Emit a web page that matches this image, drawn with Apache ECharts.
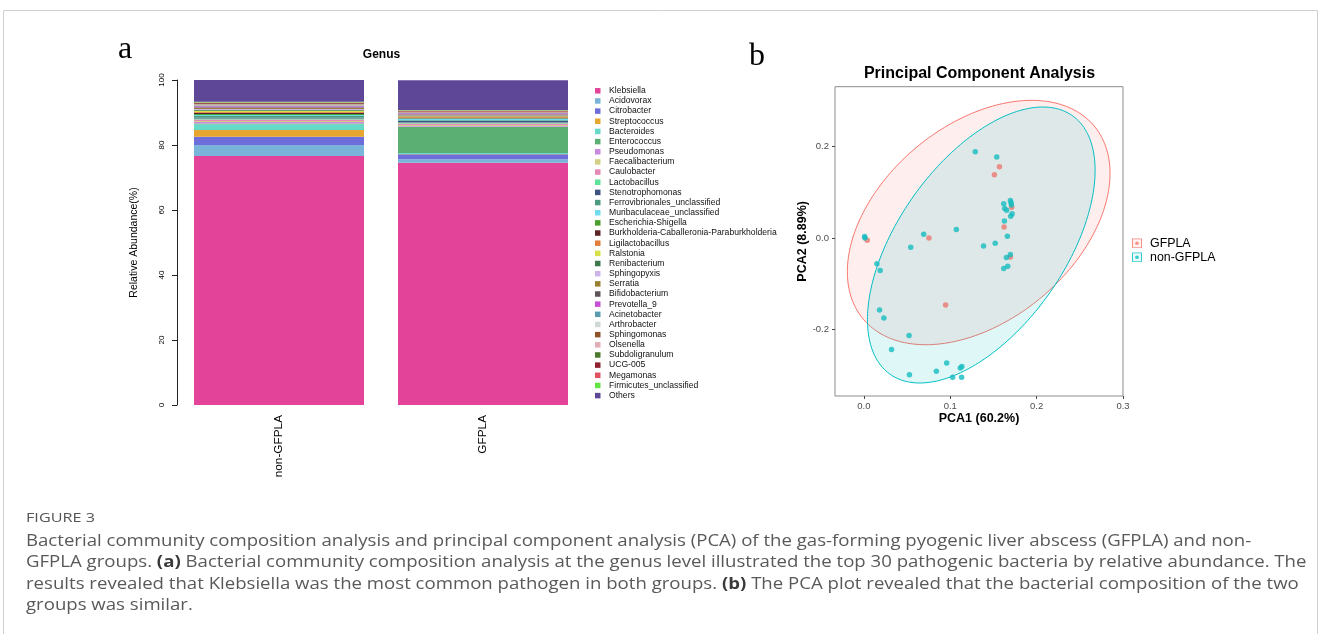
<!DOCTYPE html>
<html><head><meta charset="utf-8">
<script src="https://cdn.jsdelivr.net/npm/echarts@6/dist/echarts.min.js"></script>
<style>html,body{margin:0;padding:0;background:#fff}#c{width:1328px;height:634px}</style>
</head><body><div id="c"></div>
<script>
// ---------- panel a data ----------
const groups = ['non-GFPLA', 'GFPLA'];
const genera = ['Klebsiella','Acidovorax','Citrobacter','Streptococcus','Bacteroides','Enterococcus','Pseudomonas','Faecalibacterium','Caulobacter','Lactobacillus','Stenotrophomonas','Ferrovibrionales_unclassified','Muribaculaceae_unclassified','Escherichia-Shigella','Burkholderia-Caballeronia-Paraburkholderia','Ligilactobacillus','Ralstonia','Renibacterium','Sphingopyxis','Serratia','Bifidobacterium','Prevotella_9','Acinetobacter','Arthrobacter','Sphingomonas','Olsenella','Subdoligranulum','UCG-005','Megamonas','Firmicutes_unclassified','Others'];
const genusColors = ['#E3449A','#7AB4DA','#6E6EDB','#E7A630','#66D9C8','#5BAF73','#C98BDE','#D4CF85','#E589B5','#5FE29A','#3E5382','#4E9A80','#6FDCF0','#4AA02C','#5C2324','#E27F3B','#D8E04A','#3E7A4E','#CDB4E8','#9A8131','#5E5358','#C84FD9','#5A9BB0','#CFDAD4','#8F5128','#E0AEB6','#4B7A2D','#8E2230','#E05262','#62E442','#5E4796'];
const nonGFPLA = [76.6,3.4,2.55,2.05,1.75,0.3,0.4,0.3,0.5,0.3,0.2,0.6,0.3,0.3,0.4,0.2,0.4,0.2,0.3,0.4,0.2,0.3,0.15,0.15,0.15,0.15,0.15,0.2,0.2,0.2,6.7];
const GFPLA = [74.55,1.1,1.5,0.1,0.3,8.1,0.2,0.3,0.5,0.3,0.4,0.3,0.4,0.2,0.1,0.4,0.1,0.2,0.1,0.2,0.1,0.3,0.1,0.1,0.1,0.1,0.1,0.1,0.3,0.1,9.2];
const abundanceTicks = [0, 20, 40, 60, 80, 100];

// ---------- panel b data ----------
const gfplaPoints = [[0.1569,0.1559],[0.1511,0.1388],[0.0038,-0.0050],[0.0753,0.0000],[0.1711,0.0672],[0.1623,0.0241],[0.1696,-0.0416],[0.0946,-0.1467]];
const nonGfplaPoints = [[0.1289,0.1892],[0.1538,0.1774],[0.0008,0.0031],[0.0012,0.0000],[0.0692,0.0081],[0.1070,0.0184],[0.0542,-0.0204],[0.1385,-0.0175],[0.1520,-0.0116],[0.1661,0.0037],[0.1627,0.0372],[0.1619,0.0753],[0.1630,0.0644],[0.1653,0.0607],[0.1696,0.0819],[0.1704,0.0775],[0.1708,0.0723],[0.1716,0.0534],[0.1700,0.0475],[0.1696,-0.0363],[0.1650,-0.0429],[0.1665,-0.0620],[0.1619,-0.0670],[0.0150,-0.0561],[0.0188,-0.0714],[0.0181,-0.1577],[0.0231,-0.1752],[0.0523,-0.2137],[0.0320,-0.2444],[0.0527,-0.2992],[0.0839,-0.2919],[0.0958,-0.2737],[0.1027,-0.3050],[0.1116,-0.2847],[0.1134,-0.2816],[0.1131,-0.3050]];
// ellipse: [centre PC1, centre PC2, half-width, half-height, cos(phase)]
const gfplaEllipse = [0.1329, 0.0339, 0.1521, 0.2676, 0.4026];
const nonGfplaEllipse = [0.1359, -0.0153, 0.1318, 0.3022, 0.541];
const pc1Ticks = [0, 0.1, 0.2, 0.3];
const pc2Ticks = [-0.2, 0, 0.2];

const SANS = 'Liberation Sans, Arial, sans-serif';
const RED = '#F8766D', TEAL = '#00BFC4';

function ellipseRenderer(fill, stroke) {
  return function (params, api) {
    const cx = api.value(0), cy = api.value(1), w = api.value(2), h = api.value(3);
    const phi = Math.acos(api.value(4));
    const pts = [];
    for (let i = 0; i <= 240; i++) {
      const t = i / 240 * 2 * Math.PI;
      pts.push(api.coord([cx + w * Math.cos(t), cy + h * Math.cos(t - phi)]));
    }
    return { type: 'polygon', shape: { points: pts }, style: { fill: fill, stroke: stroke, lineWidth: 1 } };
  };
}
function keyIcon(col, fill) {
  const svg = '<svg xmlns="http://www.w3.org/2000/svg" width="20" height="20"><rect x="1" y="1" width="18" height="18" fill="' + fill + '" stroke="' + col + '" stroke-width="2"/><circle cx="10" cy="10" r="3.6" fill="' + col + '"/></svg>';
  return 'image://data:image/svg+xml;charset=utf-8,' + encodeURIComponent(svg);
}

const barSeries = genera.map((g, i) => ({
  name: g, type: 'bar', stack: 'genus', xAxisIndex: 0, yAxisIndex: 0, barWidth: 170,
  data: [nonGFPLA[i], GFPLA[i]], itemStyle: { color: genusColors[i] }, emphasis: { disabled: true }
}));

const capFont = 'Open Sans, sans-serif';
const capRich = { b: { fontFamily: capFont, fontSize: 15.5, fontWeight: 'bold', fill: '#3a3a3a' } };
function capLine(txt, y) {
  return { type: 'text', x: 26, y: y, scaleX: 1.2, style: { text: txt, rich: capRich, fontFamily: capFont, fontSize: 15.5, fill: '#595959', align: 'left', verticalAlign: 'middle', textAlign: 'left', textVerticalAlign: 'middle' } };
}

const chart = echarts.init(document.getElementById('c'), null, { renderer: 'canvas' });
chart.setOption({
  animation: false,
  backgroundColor: '#fff',
  textStyle: { fontFamily: SANS },
  grid: [
    { left: 177, top: 80, width: 408, height: 325 },
    { left: 835, top: 86.7, width: 288, height: 309.3, show: true, borderColor: '#8c8c8c', borderWidth: 1, backgroundColor: '#fff' }
  ],
  xAxis: [
    { type: 'category', gridIndex: 0, data: groups, axisLine: { show: false }, axisTick: { show: false },
      axisLabel: { rotate: 90, fontSize: 11.8, color: '#000', margin: 10, fontFamily: SANS } },
    { type: 'value', gridIndex: 1, min: -0.0335, max: 0.3, splitLine: { show: false }, axisLine: { show: false, onZero: false },
      axisTick: { show: true, length: 3, inside: false, customValues: pc1Ticks, lineStyle: { color: '#444' } },
      axisLabel: { customValues: pc1Ticks, formatter: v => v.toFixed(1), fontSize: 9.5, color: '#4d4d4d', margin: 5, fontFamily: SANS },
      name: 'PCA1 (60.2%)', nameLocation: 'middle', nameGap: 14,
      nameTextStyle: { fontSize: 12.5, fontWeight: 'bold', color: '#000', fontFamily: SANS } }
  ],
  yAxis: [
    { type: 'value', gridIndex: 0, min: 0, max: 100, interval: 20, splitLine: { show: false },
      axisLine: { show: true, onZero: false, lineStyle: { color: '#222' } },
      axisTick: { show: true, length: 5, inside: false, lineStyle: { color: '#222' } },
      axisLabel: { rotate: 90, fontSize: 8, color: '#000', margin: 11, fontFamily: SANS, customValues: abundanceTicks },
      name: 'Relative Abundance(%)', nameLocation: 'middle', nameGap: 37,
      nameTextStyle: { fontSize: 10.5, color: '#000', fontFamily: SANS } },
    { type: 'value', gridIndex: 1, min: -0.346, max: 0.3314, splitLine: { show: false }, axisLine: { show: false, onZero: false },
      axisTick: { show: true, length: 3, inside: false, customValues: pc2Ticks, lineStyle: { color: '#444' } },
      axisLabel: { customValues: pc2Ticks, formatter: v => v.toFixed(1), fontSize: 9.5, color: '#4d4d4d', margin: 6, fontFamily: SANS },
      name: 'PCA2 (8.89%)', nameLocation: 'middle', nameGap: 25,
      nameTextStyle: { fontSize: 12.5, fontWeight: 'bold', color: '#000', fontFamily: SANS } }
  ],
  legend: [
    { data: genera, orient: 'vertical', left: 595, top: 85.8, padding: 0, itemGap: 0.16, itemWidth: 5.5, itemHeight: 5.5,
      icon: 'rect', selectedMode: false,
      textStyle: { fontSize: 8.6, lineHeight: 10, color: '#111', fontFamily: SANS, padding: [0, 0, 0, 3.5] } },
    { data: [{ name: 'GFPLA', icon: keyIcon(RED, 'rgba(248,118,109,0.12)') }, { name: 'non-GFPLA', icon: keyIcon(TEAL, 'rgba(0,191,196,0.12)') }],
      orient: 'vertical', left: 1132, top: 237.3, padding: 0, itemGap: 2, itemWidth: 10, itemHeight: 10, selectedMode: false,
      textStyle: { fontSize: 12.4, lineHeight: 12, color: '#000', fontFamily: SANS, padding: [0, 0, 0, 3] } }
  ],
  series: barSeries.concat([
    { name: 'GFPLA ellipse', type: 'custom', xAxisIndex: 1, yAxisIndex: 1, data: [gfplaEllipse],
      encode: { x: 0, y: 1 }, renderItem: ellipseRenderer('rgba(248,118,109,0.12)', RED), silent: true, z: 1 },
    { name: 'non-GFPLA ellipse', type: 'custom', xAxisIndex: 1, yAxisIndex: 1, data: [nonGfplaEllipse],
      encode: { x: 0, y: 1 }, renderItem: ellipseRenderer('rgba(0,191,196,0.12)', TEAL), silent: true, z: 2 },
    { name: 'GFPLA', type: 'scatter', xAxisIndex: 1, yAxisIndex: 1, data: gfplaPoints, symbolSize: 5.5,
      itemStyle: { color: '#E8786F' }, z: 3 },
    { name: 'non-GFPLA', type: 'scatter', xAxisIndex: 1, yAxisIndex: 1, data: nonGfplaPoints, symbolSize: 5.5,
      itemStyle: { color: '#14BBBF' }, z: 3 }
  ]),
  graphic: [
    { type: 'rect', shape: { x: 3.5, y: 10.5, width: 1314, height: 700 }, style: { fill: 'none', stroke: '#d0d0d0', lineWidth: 1 }, z: -10 },
    { type: 'text', x: 125, y: 50, style: { text: 'a', fontFamily: 'Liberation Serif, serif', fontSize: 32, fill: '#000', align: 'center', verticalAlign: 'middle', textAlign: 'center', textVerticalAlign: 'middle' } },
    { type: 'text', x: 757, y: 57, style: { text: 'b', fontFamily: 'Liberation Serif, serif', fontSize: 32, fill: '#000', align: 'center', verticalAlign: 'middle', textAlign: 'center', textVerticalAlign: 'middle' } },
    { type: 'text', x: 381.5, y: 54.3, style: { text: 'Genus', fontFamily: SANS, fontSize: 12, fontWeight: 'bold', fill: '#000', align: 'center', verticalAlign: 'middle', textAlign: 'center', textVerticalAlign: 'middle' } },
    { type: 'text', x: 979.5, y: 74, style: { text: 'Principal Component Analysis', fontFamily: SANS, fontSize: 16, fontWeight: 'bold', fill: '#000', align: 'center', verticalAlign: 'middle', textAlign: 'center', textVerticalAlign: 'middle' } },
    { type: 'text', x: 26, y: 518, scaleX: 1.2, style: { text: 'FIGURE 3', fontFamily: capFont, fontSize: 13.5, fill: '#555', align: 'left', verticalAlign: 'middle', textAlign: 'left', textVerticalAlign: 'middle' } },
    capLine('Bacterial community composition analysis and principal component analysis (PCA) of the gas-forming pyogenic liver abscess (GFPLA) and non-', 541.5),
    capLine('GFPLA groups. {b|(a)} Bacterial community composition analysis at the genus level illustrated the top 30 pathogenic bacteria by relative abundance. The', 563),
    capLine('results revealed that Klebsiella was the most common pathogen in both groups. {b|(b)} The PCA plot revealed that the bacterial composition of the two', 584.5),
    capLine('groups was similar.', 606)
  ]
});
</script>
</body></html>
